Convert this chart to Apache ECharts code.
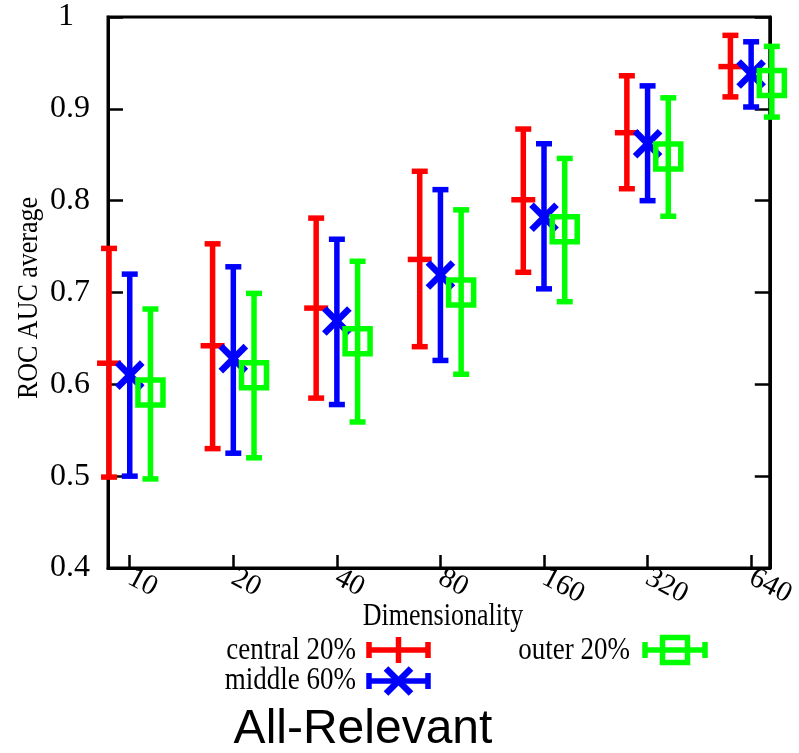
<!DOCTYPE html>
<html>
<head>
<meta charset="utf-8">
<script src="https://cdn.jsdelivr.net/npm/echarts@6/dist/echarts.min.js"></script>
<style>
html,body{margin:0;padding:0;background:#fff;}
#chart{width:799px;height:753px;}
</style>
</head>
<body>
<div id="chart"></div>
<script>
const categories = ['10','20','40','80','160','320','640'];
const yTicks = [0.4,0.5,0.6,0.7,0.8,0.9,1];

const centralMean = [0.623, 0.642, 0.683, 0.736, 0.801, 0.874, 0.946];
const centralLow  = [0.499, 0.530, 0.585, 0.641, 0.722, 0.813, 0.913];
const centralHigh = [0.748, 0.753, 0.781, 0.832, 0.878, 0.936, 0.980];

const middleMean = [0.610, 0.628, 0.669, 0.719, 0.782, 0.862, 0.938];
const middleLow  = [0.500, 0.525, 0.578, 0.626, 0.704, 0.800, 0.902];
const middleHigh = [0.720, 0.728, 0.758, 0.812, 0.862, 0.925, 0.973];

const outerMean = [0.591, 0.610, 0.647, 0.700, 0.769, 0.848, 0.928];
const outerLow  = [0.497, 0.520, 0.559, 0.611, 0.690, 0.783, 0.891];
const outerHigh = [0.682, 0.699, 0.734, 0.790, 0.846, 0.912, 0.968];

const seriesNames = ['central 20%','middle 60%','outer 20%'];
const colors = ['#ff0000','#0000ff','#00ff00'];

const SERIF = '"Liberation Serif","Times New Roman",serif';
const LW = 5.5, CAP = 8;

function markerShapes(kind, cx, cy, color){
  if(kind==='plus'){
    return [{type:'line',shape:{x1:cx-12,y1:cy,x2:cx+12,y2:cy},style:{stroke:color,lineWidth:LW}}];
  }
  if(kind==='cross'){
    const r=12.5;
    return [
      {type:'line',shape:{x1:cx-r,y1:cy-r,x2:cx+r,y2:cy+r},style:{stroke:color,lineWidth:6.5}},
      {type:'line',shape:{x1:cx-r,y1:cy+r,x2:cx+r,y2:cy-r},style:{stroke:color,lineWidth:6.5}}
    ];
  }
  return [{type:'rect',shape:{x:cx-12.5,y:cy-12.5,width:25,height:25},style:{stroke:color,fill:'none',lineWidth:LW}}];
}

function makeRender(kind, color){
  return function(params, api){
    const x = api.value(0);
    const pLo = api.coord([x, api.value(1)]);
    const pMid = api.coord([x, api.value(2)]);
    const pHi = api.coord([x, api.value(3)]);
    const cx = pMid[0];
    const children = [
      {type:'line',shape:{x1:cx,y1:pLo[1],x2:cx,y2:pHi[1]},style:{stroke:color,lineWidth:LW}},
      {type:'line',shape:{x1:cx-CAP,y1:pLo[1],x2:cx+CAP,y2:pLo[1]},style:{stroke:color,lineWidth:LW}},
      {type:'line',shape:{x1:cx-CAP,y1:pHi[1],x2:cx+CAP,y2:pHi[1]},style:{stroke:color,lineWidth:LW}}
    ].concat(markerShapes(kind, cx, pMid[1], color));
    return {type:'group', children};
  };
}

function buildData(lo, mid, hi, offset){
  return categories.map((c,i)=>[i+offset, lo[i], mid[i], hi[i]]);
}

function legendKey(x1, x2, y, kind, color){
  const cx=(x1+x2)/2;
  const els=[
    {type:'line',shape:{x1:x1,y1:y,x2:x2,y2:y},style:{stroke:color,lineWidth:LW}},
    {type:'line',shape:{x1:x1+2,y1:y-8,x2:x1+2,y2:y+8},style:{stroke:color,lineWidth:LW}},
    {type:'line',shape:{x1:x2-2,y1:y-8,x2:x2-2,y2:y+8},style:{stroke:color,lineWidth:LW}}
  ];
  if(kind==='plus'){
    els.push({type:'line',shape:{x1:cx,y1:y-13,x2:cx,y2:y+13},style:{stroke:color,lineWidth:LW}});
  } else {
    markerShapes(kind, cx, y, color).forEach(e=>els.push(e));
  }
  return els;
}

const chart = echarts.init(document.getElementById('chart'), null, {renderer:'canvas'});

function hText(x, y, text, size, align){
  return {type:'text', x:x, y:y, scaleY:1.2,
    style:{text:text, font:size+'px '+SERIF, fill:'#000', textAlign:align, textVerticalAlign:'middle'}};
}

const graphics = [
  {type:'text', x:29, y:298, rotation:Math.PI/2, scaleY:1.15, style:{text:'ROC AUC average', font:'26px '+SERIF, fill:'#000', textAlign:'center', textVerticalAlign:'middle'}},
  hText(443, 617, 'Dimensionality', 26, 'center'),
  hText(356, 650, seriesNames[0], 27, 'right'),
  hText(356, 680, seriesNames[1], 27, 'right'),
  hText(630, 650, seriesNames[2], 27, 'right'),
  {type:'text', x:363, y:730, style:{text:'All-Relevant', font:'48px "Liberation Sans",Arial,sans-serif', fill:'#000', textAlign:'center', textVerticalAlign:'middle'}}
].concat(legendKey(367,430,650,'plus',colors[0]))
 .concat(legendKey(367,430,681,'cross',colors[1]))
 .concat(legendKey(643,707,650,'square',colors[2]));

const option = {
  animation:false,
  backgroundColor:'#fff',
  grid:{left:108, right:22, top:17, bottom:185, show:true, borderColor:'#000', borderWidth:3, backgroundColor:'transparent'},
  xAxis:{
    type:'value', min:-0.21, max:6.18,
    splitLine:{show:false},
    axisLine:{show:true, onZero:false, lineStyle:{color:'#000', width:3}},
    axisTick:{show:true, inside:true, length:13, customValues:[0,1,2,3,4,5,6], lineStyle:{color:'#000', width:2.5}},
    axisLabel:{show:true, customValues:[0,1,2,3,4,5,6], rotate:-28, margin:8,
      formatter:function(v){return categories[Math.round(v)];},
      fontFamily:SERIF, fontSize:29, color:'#000'}
  },
  yAxis:[
    {type:'value', min:0.4, max:1, interval:0.1, position:'left',
      splitLine:{show:false},
      axisLine:{show:true, onZero:false, lineStyle:{color:'#000', width:3}},
      axisTick:{show:true, inside:true, length:15, lineStyle:{color:'#000', width:2.5}},
      axisLabel:{show:true, margin:18, fontFamily:SERIF, fontSize:32, color:'#000',
        formatter:function(v){return Math.abs(v-1)<1e-9?'{one|1}':v.toFixed(1);},
        rich:{one:{fontFamily:SERIF, fontSize:32, color:'#000', padding:[0,16,0,0]}}}
    },
    {type:'value', min:0.4, max:1, interval:0.1, position:'right',
      splitLine:{show:false},
      axisLine:{show:true, onZero:false, lineStyle:{color:'#000', width:3}},
      axisTick:{show:true, inside:true, length:15, lineStyle:{color:'#000', width:2.5}},
      axisLabel:{show:false}
    }
  ],
  graphic: graphics,
  series:[
    {name:seriesNames[0], type:'custom', renderItem:makeRender('plus', colors[0]), clip:false,
      encode:{x:0, y:[1,2,3]}, data:buildData(centralLow, centralMean, centralHigh, -0.2), z:3},
    {name:seriesNames[1], type:'custom', renderItem:makeRender('cross', colors[1]), clip:false,
      encode:{x:0, y:[1,2,3]}, data:buildData(middleLow, middleMean, middleHigh, 0), z:4},
    {name:seriesNames[2], type:'custom', renderItem:makeRender('square', colors[2]), clip:false,
      encode:{x:0, y:[1,2,3]}, data:buildData(outerLow, outerMean, outerHigh, 0.2), z:5}
  ]
};
chart.setOption(option);
</script>
</body>
</html>
